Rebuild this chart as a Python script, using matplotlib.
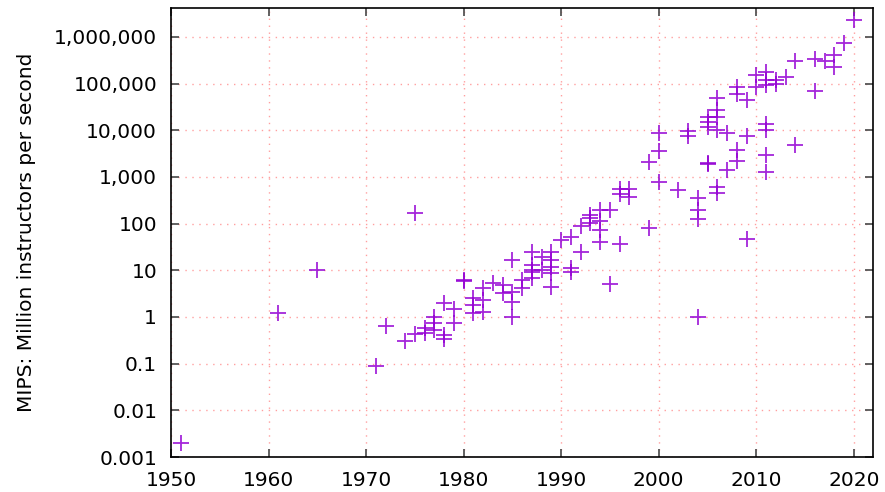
import matplotlib
matplotlib.use("Agg")
import matplotlib.pyplot as plt
from matplotlib.ticker import FuncFormatter, FixedLocator, NullLocator

# Year of each machine and its MIPS
years = [1951, 1961, 1965, 1971, 1972, 1974, 1975, 1975, 1976, 1976,
         1977, 1977, 1977, 1978, 1978, 1978, 1979, 1979, 1980, 1980,
         1981, 1981, 1981, 1982, 1982, 1982, 1983, 1984, 1984, 1985,
         1985, 1985, 1985, 1986, 1986, 1987, 1987, 1987, 1987, 1987,
         1988, 1988, 1989, 1989, 1989, 1989, 1989, 1990, 1991, 1991,
         1991, 1992, 1992, 1993, 1993, 1993, 1994, 1994, 1994, 1994,
         1995, 1995, 1996, 1996, 1996, 1997, 1997, 1999, 1999, 2000,
         2000, 2000, 2002, 2003, 2003, 2004, 2004, 2004, 2004, 2005,
         2005, 2005, 2005, 2005, 2006, 2006, 2006, 2006, 2006, 2006,
         2007, 2007, 2008, 2008, 2008, 2008, 2009, 2009, 2009, 2010,
         2010, 2011, 2011, 2011, 2011, 2011, 2011, 2011, 2012, 2012,
         2013, 2014, 2014, 2016, 2016, 2017, 2018, 2018, 2019, 2020]
mips = [0.002, 1.2, 10, 0.09, 0.65, 0.3, 165, 0.43, 0.57, 0.45,
        1.0, 0.73, 0.53, 2.0, 0.41, 0.33, 1.46, 0.76, 6.2, 5.8,
        2.6, 1.8, 1.2, 4.1, 2.3, 1.3, 5.3, 4.8, 3.2, 16.6,
        3.5, 2.1, 1.0, 6.2, 4.1, 25, 12.9, 10, 9.3, 6.7,
        19.5, 10, 25, 16.6, 11.9, 8.9, 4.4, 44, 52, 11,
        9.3, 88, 25, 151, 130, 101, 195, 112, 72, 41,
        195, 5.2, 550, 440, 36, 550, 370, 2100, 80, 8700,
        3600, 770, 520, 9800, 7600, 360, 194, 125, 1.0, 19000,
        15000, 12000, 2000, 1850, 50000, 27700, 19200, 10000, 600, 460,
        8700, 1400, 85000, 61000, 3850, 2150, 44000, 7600, 46, 150000,
        85000, 176000, 117000, 92000, 13800, 10000, 2900, 1290, 117000, 100000,
        136000, 300000, 4800, 330000, 70000, 300000, 420000, 226000, 750000, 2300000]

xticks = [1950, 1960, 1970, 1980, 1990, 2000, 2010, 2020]
yticks = [0.001, 0.01, 0.1, 1, 10, 100, 1000, 10000, 100000, 1000000]


def fmt(v, pos):
    if v >= 1:
        return "{:,.0f}".format(v)
    return "{:g}".format(v)


fig = plt.figure(figsize=(8.85, 4.92), dpi=100)
ax = fig.add_axes([0.1933, 0.0711, 0.7935, 0.913])

ax.plot(years, mips, linestyle="none", marker="+", markersize=11,
        markeredgewidth=1.3, color="#9400d3", alpha=0.85)

ax.set_yscale("log")
ax.set_xlim(1950, 2022)
ax.set_ylim(0.001, 4.2e6)
ax.xaxis.set_major_locator(FixedLocator(xticks))
ax.yaxis.set_major_locator(FixedLocator(yticks))
ax.yaxis.set_minor_locator(NullLocator())
ax.xaxis.set_minor_locator(NullLocator())
ax.yaxis.set_major_formatter(FuncFormatter(fmt))

ax.grid(True, color="#ff9f9f", linestyle=(0, (1, 4)), linewidth=1.0)
ax.tick_params(direction="in", length=6, width=1.3, color="#555555",
               labelsize=14.5, pad=10, top=True, right=True)
for s in ax.spines.values():
    s.set_linewidth(1.2)
    s.set_color("black")

ax.set_ylabel("MIPS: Million instructors per second", fontsize=14.5,
              labelpad=13)

fig.savefig("out.png", dpi=100)
